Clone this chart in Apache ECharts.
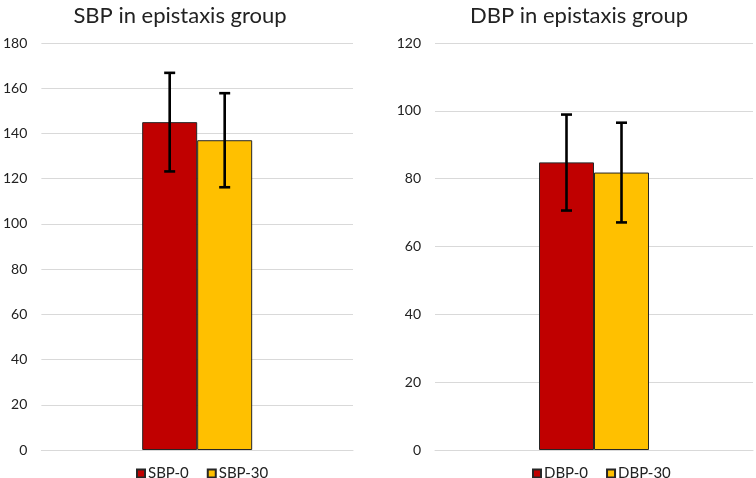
<!DOCTYPE html>
<html><head><meta charset="utf-8">
<script src="https://cdn.jsdelivr.net/npm/echarts@6/dist/echarts.min.js"></script>
<style>html,body{margin:0;padding:0;background:#fff}#c{width:756px;height:478px}</style>
</head><body><div id="c"></div>
<script>
var titles = ['SBP in epistaxis group', 'DBP in epistaxis group'];
var sbpNames = ['SBP-0', 'SBP-30'];
var sbpMeans = [145, 137];
var sbpLow = [123.2, 116.2];
var sbpHigh = [166.8, 157.8];
var dbpNames = ['DBP-0', 'DBP-30'];
var dbpMeans = [84.8, 81.8];
var dbpLow = [70.6, 67.1];
var dbpHigh = [98.9, 96.5];
var sbpTicks = {min: 0, max: 180, interval: 20};
var dbpTicks = {min: 0, max: 120, interval: 20};
var colors = ['#C00000', '#FFC000'];

var BW = 55;
var FONT = 'Lato, "Open Sans", sans-serif';

function errSeries(idx, lows, highs, k, offset) {
  return {
    type: 'custom', xAxisIndex: idx, yAxisIndex: idx, z: 10,
    data: [[0, lows[k], highs[k]]],
    renderItem: function (params, api) {
      var lo = api.coord([api.value(0), api.value(1)]);
      var hi = api.coord([api.value(0), api.value(2)]);
      var x = lo[0] + offset;
      var cap = 5.5;
      var st = {stroke: '#000', lineWidth: 2.6};
      return {type: 'group', children: [
        {type: 'line', shape: {x1: x, y1: lo[1], x2: x, y2: hi[1]}, style: st},
        {type: 'line', shape: {x1: x - cap, y1: lo[1], x2: x + cap, y2: lo[1]}, style: st},
        {type: 'line', shape: {x1: x - cap, y1: hi[1], x2: x + cap, y2: hi[1]}, style: st}
      ]};
    }
  };
}

function barSeries(idx, names, means) {
  return names.map(function (n, k) {
    return {
      name: n, type: 'bar', xAxisIndex: idx, yAxisIndex: idx,
      data: [means[k]], barWidth: BW, barGap: '0%',
      itemStyle: {color: colors[k], borderColor: '#262626', borderWidth: 1},
      emphasis: {disabled: true}
    };
  });
}

function yAxis(idx, t) {
  return {
    type: 'value', gridIndex: idx, min: t.min, max: t.max, interval: t.interval,
    axisLine: {show: false}, axisTick: {show: false},
    axisLabel: {color: '#222', fontSize: 14, fontFamily: FONT, margin: 14},
    splitLine: {lineStyle: {color: '#d9d9d9', width: 1}}
  };
}

function xAxis(idx) {
  return {
    type: 'category', gridIndex: idx, data: [''],
    axisLine: {lineStyle: {color: '#d9d9d9'}}, axisTick: {show: false},
    axisLabel: {show: false}
  };
}

var series = []
  .concat(barSeries(0, sbpNames, sbpMeans))
  .concat(barSeries(1, dbpNames, dbpMeans))
  .concat([
    errSeries(0, sbpLow, sbpHigh, 0, -BW / 2),
    errSeries(0, sbpLow, sbpHigh, 1, BW / 2),
    errSeries(1, dbpLow, dbpHigh, 0, -BW / 2),
    errSeries(1, dbpLow, dbpHigh, 1, BW / 2)
  ]);

var legendCommon = {
  icon: 'rect', itemWidth: 8, itemHeight: 8, itemGap: 18, top: 461,
  textStyle: {fontSize: 15, color: '#222', fontFamily: FONT, padding: [0, 0, 0, -2]},
  selectedMode: false
};

var chart = echarts.init(document.getElementById('c'));
chart.setOption({
  animation: false,
  backgroundColor: '#fff',
  title: [
    {text: titles[0], left: 175, top: 0, textAlign: 'center',
     textStyle: {fontSize: 22, fontWeight: 'normal', color: '#222', fontFamily: FONT}},
    {text: titles[1], left: 574, top: 0, textAlign: 'center',
     textStyle: {fontSize: 22, fontWeight: 'normal', color: '#222', fontFamily: FONT}}
  ],
  legend: [
    Object.assign({data: sbpNames, left: 131}, legendCommon),
    Object.assign({data: dbpNames, left: 527}, legendCommon)
  ],
  grid: [
    {left: 39, right: 403, top: 43, bottom: 28, containLabel: false},
    {left: 435, right: 3, top: 43, bottom: 28, containLabel: false}
  ],
  xAxis: [xAxis(0), xAxis(1)],
  yAxis: [yAxis(0, sbpTicks), yAxis(1, dbpTicks)],
  series: series
});
</script></body></html>
